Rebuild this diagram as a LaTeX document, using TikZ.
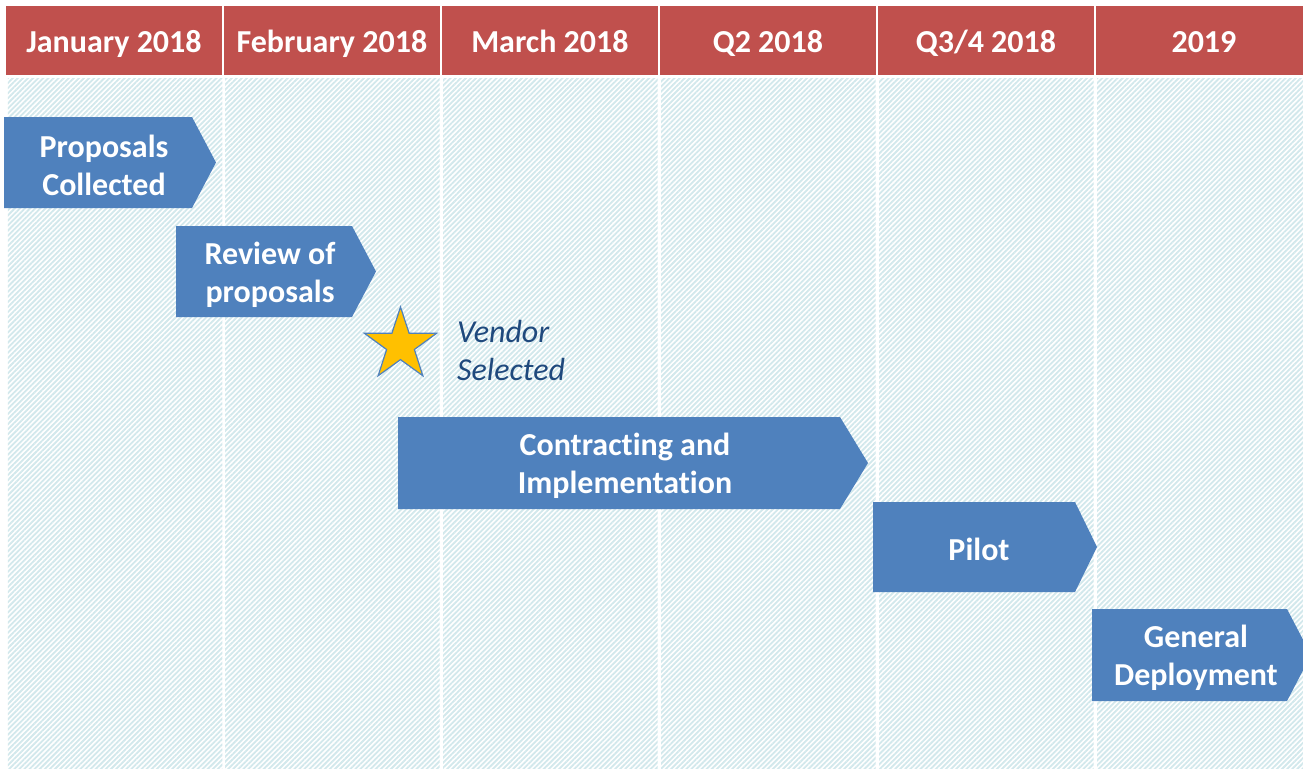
\documentclass[tikz,border=0pt]{standalone}
\usepackage{fontspec}
\setmainfont{Carlito}[Ligatures=NoCommon]
\usetikzlibrary{patterns.meta,shapes.geometric}
\definecolor{hdrred}{RGB}{192,80,77}
\definecolor{arrblue}{RGB}{79,129,189}
\definecolor{hatch}{RGB}{210,232,236}
\definecolor{starfill}{RGB}{255,192,0}
\definecolor{darkblue}{RGB}{31,73,125}
\tikzset{
  hdr/.style={fill=hdrred, draw=none, minimum width=215.5pt, minimum height=69pt, inner sep=0pt,
    text=white, text height=23pt, text depth=0pt, font=\fontsize{32}{38}\selectfont\bfseries},
  colbody/.style={draw=none, minimum width=214.5pt, minimum height=690pt, inner sep=0pt,
    pattern={Lines[angle=45,distance=3.6pt,line width=1.8pt]}, pattern color=hatch},
  chev/.style={fill=arrblue, draw=none},
  chevtext/.style={text=white, align=center, inner sep=0pt,
    font=\fontsize{32}{38}\selectfont\bfseries},
  note/.style={text=darkblue, align=left, inner sep=0pt, anchor=west,
    font=\fontsize{32}{38}\selectfont\itshape},
}
\begin{document}
\begin{tikzpicture}[x=1pt,y=-1pt]
\useasboundingbox (0,0) rectangle (1303,768);
\fill[white] (0,0) rectangle (1303,768);
\begin{scope}
\clip (0,0) rectangle (1303,768);
% column bodies
\node[colbody, anchor=north west] (c1) at (7,78) {};
\node[colbody, anchor=north west] (c2) at (225,78) {};
\node[colbody, anchor=north west] (c3) at (443,78) {};
\node[colbody, anchor=north west] (c4) at (661,78) {};
\node[colbody, anchor=north west] (c5) at (879,78) {};
\node[colbody, anchor=north west] (c6) at (1097,78) {};
% headers
\node[hdr, anchor=north west] (h1) at (6,6) {January 2018};
\node[hdr, anchor=north west] (h2) at (224,6) {February 2018};
\node[hdr, anchor=north west] (h3) at (442,6) {March 2018};
\node[hdr, anchor=north west] (h4) at (660,6) {Q2 2018};
\node[hdr, anchor=north west] (h5) at (878,6) {Q3/4 2018};
\node[hdr, anchor=north west] (h6) at (1096,6) {2019};
% chevrons
\fill[chev] (4,117) -- (192,117) -- (216,162.5) -- (192,208) -- (4,208) -- cycle;
\node[chevtext] (a1) at (104,165.5) {Proposals\\Collected};
\fill[chev] (176,226) -- (352,226) -- (376,271.5) -- (352,317) -- (176,317) -- cycle;
\node[chevtext] (a2) at (270,274.5) {Review of\\proposals};
\fill[chev] (398,417) -- (840,417) -- (868,463) -- (840,509) -- (398,509) -- cycle;
\node[chevtext] (a3) at (625,466) {Contracting and\\Implementation};
\fill[chev] (873,502) -- (1075,502) -- (1097,547) -- (1075,592) -- (873,592) -- cycle;
\node[chevtext] (a4) at (979,549) {Pilot};
\fill[chev] (1092,609) -- (1287,609) -- (1311,655) -- (1287,701) -- (1092,701) -- cycle;
\node[chevtext] (a5) at (1196,658) {General\\Deployment};
\end{scope}
% star
\node[star, star points=5, star point ratio=2.6, minimum size=76pt, inner sep=0pt,
  fill=starfill, draw=arrblue, line width=1.2pt] (st) at (400.5,345) {};
\node[note] (vs) at (457,351) {Vendor\\Selected};
\end{tikzpicture}
\end{document}
